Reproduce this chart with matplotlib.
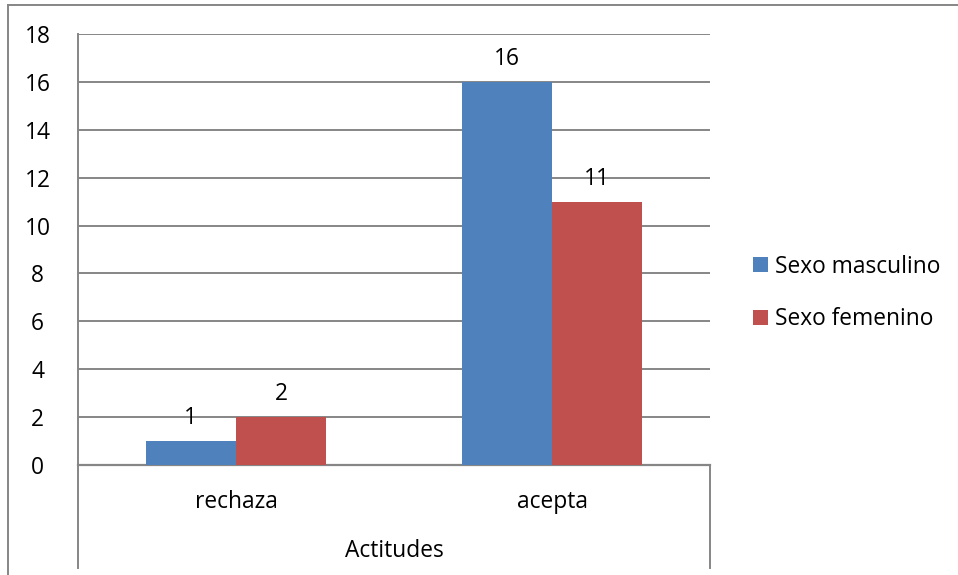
import matplotlib
matplotlib.use("Agg")
import matplotlib.pyplot as plt
from matplotlib.lines import Line2D
from matplotlib.patches import Patch
import numpy as np

categories = ["rechaza", "acepta"]
series_names = ["Sexo masculino", "Sexo femenino"]
masculino = [1, 16]
femenino = [2, 11]
y_ticks = [0, 2, 4, 6, 8, 10, 12, 14, 16, 18]
axis_title = "Actitudes"

colors = ["#4F81BD", "#C0504D"]
grid_color = "#868686"
font = ["Open Sans", "DejaVu Sans"]
fs = 16.4
plt.rcParams["font.family"] = font

W, H = 958, 575
fig = plt.figure(figsize=(W / 100, H / 100), dpi=100)
fig.patch.set_facecolor("white")

left, right, top, bottom = 78, 710, 34, 465
ax = fig.add_axes([left / W, 1 - bottom / H, (right - left) / W, (bottom - top) / H])

x = np.arange(len(categories))
bw = 0.285
off = 0.143
series = [masculino, femenino]
offsets = [-off, off]
for vals, o, c in zip(series, offsets, colors):
    bars = ax.bar(x + o, vals, width=bw, color=c, zorder=3)
    for b, v in zip(bars, vals):
        ax.annotate(str(v), (b.get_x() + b.get_width() / 2, v),
                    xytext=(0, 8), textcoords="offset points",
                    ha="center", va="bottom", fontsize=fs, color="black")

ax.set_xlim(-0.5, len(categories) - 0.5)
ax.set_ylim(0, 18)
ax.set_yticks(y_ticks)
ax.set_yticklabels([str(t) for t in y_ticks], fontsize=fs)
ax.tick_params(axis="y", length=0, pad=29)
ax.set_xticks([])
for t in ax.get_yticklabels():
    t.set_horizontalalignment("center")
ax.yaxis.grid(True, color=grid_color, linewidth=1.4, zorder=0)
ax.set_axisbelow(True)
for s in ["top", "right"]:
    ax.spines[s].set_visible(False)
ax.spines["left"].set_color(grid_color)
ax.spines["left"].set_linewidth(1.4)
ax.spines["bottom"].set_color(grid_color)
ax.spines["bottom"].set_linewidth(1.6)

# category labels and axis title below the plot
for xi, cat in zip(x, categories):
    ax.annotate(cat, (xi, 0), xytext=(0, -27), textcoords="offset points",
                ha="center", va="center", fontsize=fs, annotation_clip=False)
ax.annotate(axis_title, (0.5, 0), xycoords="axes fraction", xytext=(0, -62),
            textcoords="offset points", ha="center", va="center", fontsize=fs,
            annotation_clip=False)

# vertical lines framing the category axis area
for px in (left, right):
    fig.add_artist(Line2D([px / W, px / W], [1 - bottom / H, 1 - 568 / H],
                          color=grid_color, linewidth=1.4))

# outer chart border
fig.add_artist(Line2D([8 / W, 8 / W], [0, 1 - 5 / H], color=grid_color, linewidth=1.4))
fig.add_artist(Line2D([8 / W, 1], [1 - 5 / H, 1 - 5 / H], color=grid_color, linewidth=1.4))

# legend
handles = [Patch(facecolor=c, edgecolor="none") for c in colors]
fig.legend(handles, series_names, loc="center left",
           bbox_to_anchor=(742 / W, 1 - 293 / H), frameon=False, borderpad=0,
           fontsize=fs, handlelength=0.65, handleheight=0.65,
           handletextpad=0.3, labelspacing=1.25)

fig.savefig("out.png", dpi=100)
